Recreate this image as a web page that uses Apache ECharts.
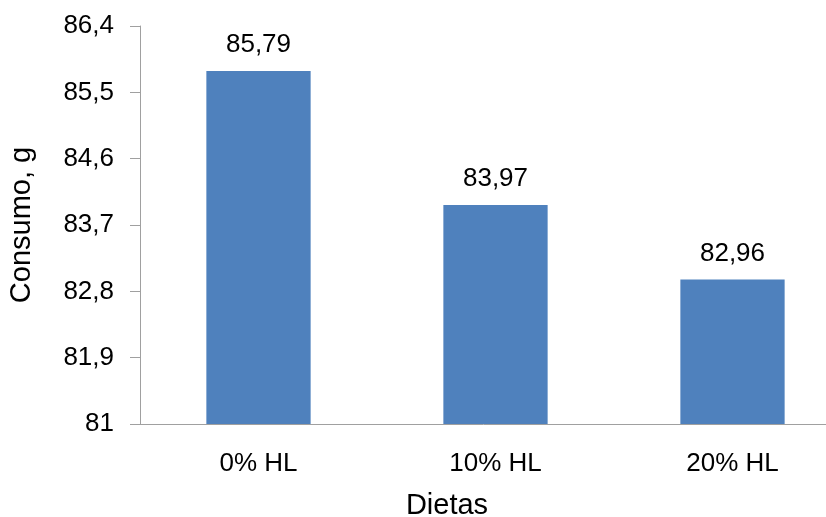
<!DOCTYPE html>
<html>
<head>
<meta charset="utf-8">
<script src="https://cdn.jsdelivr.net/npm/echarts@6/dist/echarts.min.js"></script>
<style>
html,body{margin:0;padding:0;background:#fff;}
#c{width:826px;height:517px;}
</style>
</head>
<body>
<div id="c"></div>
<script>
var categories = ['0% HL', '10% HL', '20% HL'];
var consumo = [85.79, 83.97, 82.96];
var yMin = 81, yMax = 86.4, yStep = 0.9;

function fmt(v) {
  return String(Number(Number(v).toFixed(2))).replace('.', ',');
}

var chart = echarts.init(document.getElementById('c'), null, {renderer: 'canvas'});
chart.setOption({
  animation: false,
  backgroundColor: '#ffffff',
  textStyle: {fontFamily: 'Liberation Sans, Arial, sans-serif', color: '#000'},
  grid: {left: 140, top: 26, bottom: 93, right: -25, containLabel: false, outerBoundsMode: 'none'},
  xAxis: {
    type: 'category',
    data: categories,
    name: 'Dietas',
    nameLocation: 'middle',
    nameGap: 67,
    nameTextStyle: {fontSize: 29, color: '#000', fontFamily: 'Liberation Sans', padding: [0, 97, 0, 0]},
    axisLine: {lineStyle: {color: '#a0a0a0', width: 1}},
    axisTick: {show: false},
    axisLabel: {fontSize: 26, color: '#000', margin: 27, fontFamily: 'Liberation Sans'},
    splitLine: {show: false}
  },
  yAxis: {
    type: 'value',
    min: yMin,
    max: yMax,
    interval: yStep,
    name: 'Consumo, g',
    nameLocation: 'middle',
    nameGap: 104,
    nameTextStyle: {fontSize: 29, color: '#000', fontFamily: 'Liberation Sans'},
    axisLine: {show: true, lineStyle: {color: '#a0a0a0', width: 1}},
    axisTick: {show: true, length: 10, lineStyle: {color: '#a0a0a0'}},
    axisLabel: {fontSize: 26, color: '#000', margin: 26, fontFamily: 'Liberation Sans',
      formatter: function (v) { return fmt(v); }},
    splitLine: {show: false}
  },
  series: [{
    type: 'bar',
    data: consumo,
    barWidth: '44%',
    itemStyle: {color: '#4f81bd'},
    label: {
      show: true,
      position: 'top',
      distance: 13,
      fontSize: 26,
      color: '#000',
      fontFamily: 'Liberation Sans',
      formatter: function (p) { return fmt(p.value); }
    }
  }]
});
</script>
</body>
</html>
